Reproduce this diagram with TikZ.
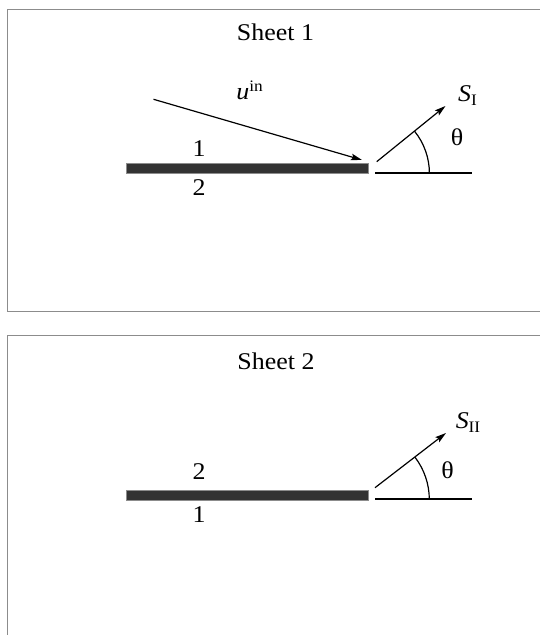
\documentclass[tikz,border=0pt]{standalone}
\usepackage{fontspec}
\setmainfont{Liberation Serif}[FakeStretch=1.08]
\usepackage{tikz}
\usetikzlibrary{arrows.meta}
\definecolor{frameGray}{gray}{0.55}
\definecolor{plateDark}{gray}{0.20}
\definecolor{plateEdge}{gray}{0.55}

\begin{document}
\begin{tikzpicture}[x=0.5pt, y=0.5pt,
      frame/.style={draw=frameGray, line width=0.5pt},
      plate/.style={draw=plateEdge, line width=0.3pt, fill=plateDark,
                    minimum width=121pt, minimum height=5pt,
                    inner sep=0pt, outer sep=0pt},
      lbl/.style={font=\fontsize{12}{14}\selectfont, inner sep=0pt},
      ray/.style={-{Stealth[length=5.5pt, width=3.2pt, inset=1pt]},
                  line width=0.6pt},
      base/.style={line width=1pt},
      arcline/.style={line width=0.6pt}]
    \useasboundingbox (0,0) rectangle (539,635);

    \draw[frame] (545,625.7) -- (7.2,625.7) -- (7.2,323) -- (545,323);
    \node[lbl] (title1) at (275.5,602.5) {Sheet 1};
    \node[plate] (plate1) at (247.5,466.2) {};
    \node[lbl] (upper1) at (199,486) {1};
    \node[lbl] (lower1) at (199,447) {2};
    \coordinate (inStart) at (153.5,535.7);
    \coordinate (inTip)   at (362,475);
    \draw[ray] (inStart) -- (inTip);
    \node[lbl] (uin) at (250,544.5) {\itshape u\/\upshape\textsuperscript{in}};
    \coordinate (baseA1) at (375,461.7);
    \coordinate (baseB1) at (471.7,461.7);
    \draw[base] (baseA1) -- (baseB1);
    \coordinate (scatStart1) at (376.7,473.3);
    \coordinate (scatTip1)   at (445.5,529);
    \draw[ray] (scatStart1) -- (scatTip1);
    \draw[arcline] (429.4,461.7) arc[start angle=0, end angle=39, radius=67];
    \node[lbl] (theta1) at (457,498) {θ};
    \node[lbl] (sI) at (468,539.5) {\itshape S\upshape\textsubscript{I}};

    \draw[frame] (545,299) -- (7.2,299) -- (7.2,-5);
    \node[lbl] (title2) at (276,273.3) {Sheet 2};
    \node[plate] (plate2) at (247.5,139.5) {};
    \node[lbl] (upper2) at (199,163.3) {2};
    \node[lbl] (lower2) at (199,120.5) {1};
    \coordinate (baseA2) at (375,135.5);
    \coordinate (baseB2) at (471.7,135.5);
    \draw[base] (baseA2) -- (baseB2);
    \coordinate (scatStart2) at (375,147.3);
    \coordinate (scatTip2)   at (446,202);
    \draw[ray] (scatStart2) -- (scatTip2);
    \draw[arcline] (429.3,135.5) arc[start angle=0, end angle=37.6, radius=69.6];
    \node[lbl] (theta2) at (447.5,165) {θ};
    \node[lbl] (sII) at (468.5,212.5) {\itshape S\upshape\textsubscript{II}};
  \end{tikzpicture}
\end{document}
